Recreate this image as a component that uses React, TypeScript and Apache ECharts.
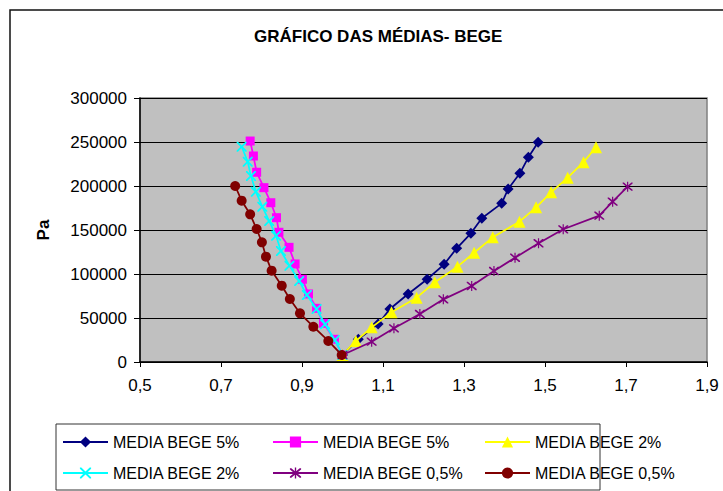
import React, { useEffect, useRef } from "react";
import * as echarts from "echarts";

const titleText = "GRÁFICO DAS MÉDIAS- BEGE";
const yAxisName = "Pa";
const seriesLabels = [
  "MEDIA BEGE 5%",
  "MEDIA BEGE 5%",
  "MEDIA BEGE 2%",
  "MEDIA BEGE 2%",
  "MEDIA BEGE 0,5%",
  "MEDIA BEGE 0,5%",
];

// MEDIA BEGE 5% (right branch, navy diamonds)
const navyX = [1.0, 1.039, 1.088, 1.117, 1.162, 1.209, 1.251, 1.282, 1.317, 1.344, 1.393, 1.409, 1.438, 1.459, 1.483];
const navyY = [8000, 25800, 43200, 60200, 77300, 94000, 111000, 129200, 146200, 163300, 180300, 196600, 214400, 232600, 249700];

// MEDIA BEGE 5% (left branch, magenta squares)
const magentaX = [0.772, 0.78, 0.788, 0.806, 0.823, 0.837, 0.843, 0.868, 0.883, 0.901, 0.916, 0.936, 0.953, 0.98, 1.0];
const magentaY = [251100, 234100, 215600, 198100, 181000, 164000, 147400, 130300, 111400, 94000, 77300, 61000, 44000, 25800, 8000];

// MEDIA BEGE 2% (right branch, yellow triangles)
const yellowX = [1.0, 1.033, 1.072, 1.121, 1.183, 1.228, 1.284, 1.325, 1.371, 1.437, 1.478, 1.515, 1.556, 1.595, 1.626];
const yellowY = [8000, 23900, 39400, 56400, 73100, 90600, 108300, 124200, 141700, 159500, 175800, 192800, 209500, 227000, 244000];

// MEDIA BEGE 2% (left branch, cyan crosses)
const cyanX = [0.751, 0.766, 0.774, 0.786, 0.802, 0.819, 0.836, 0.848, 0.869, 0.893, 0.912, 0.936, 0.957, 0.981, 1.0];
const cyanY = [244700, 227600, 211400, 193600, 176500, 160200, 143500, 126100, 109400, 92000, 76100, 60200, 42800, 25000, 8000];

// MEDIA BEGE 0,5% (right branch, purple asterisks)
const purpleX = [1.0, 1.072, 1.127, 1.191, 1.249, 1.319, 1.374, 1.426, 1.484, 1.545, 1.634, 1.667, 1.704];
const purpleY = [8000, 23100, 38300, 54500, 71200, 86400, 103400, 118500, 134900, 150800, 166300, 182200, 199200];

// MEDIA BEGE 0,5% (left branch, maroon circles)
const maroonX = [0.735, 0.751, 0.772, 0.788, 0.801, 0.811, 0.825, 0.85, 0.87, 0.895, 0.928, 0.965, 0.998];
const maroonY = [200000, 183300, 167800, 151100, 136000, 119700, 103800, 86700, 71600, 55300, 40100, 23900, 8000];

const X_MIN = 0.5;
const X_MAX = 1.9;
const X_STEP = 0.2;
const Y_MAX = 300000;
const Y_STEP = 50000;

const FONT = "'Liberation Sans', Arial, Helvetica, sans-serif";

const crossPath =
  "path://M0,0 L2.5,0 L10,7.5 L17.5,0 L20,0 L20,2.5 L12.5,10 L20,17.5 L20,20 L17.5,20 L10,12.5 L2.5,20 L0,20 L0,17.5 L7.5,10 L0,2.5 Z";
const starPath =
  "path://M0,0 L2.5,0 L10,7.5 L17.5,0 L20,0 L20,2.5 L12.5,10 L20,17.5 L20,20 L17.5,20 L10,12.5 L2.5,20 L0,20 L0,17.5 L7.5,10 L0,2.5 Z M8.8,-2 L11.2,-2 L11.2,22 L8.8,22 Z";

function pairs(xs: number[], ys: number[]) {
  return xs.map((x, i) => [x - X_MIN, ys[i]]);
}

export default function App() {
  const ref = useRef<HTMLDivElement>(null);

  useEffect(() => {
    if (!ref.current) return;
    const chart = echarts.init(ref.current, null, { renderer: "svg" });

    const specs = [
      { xs: navyX, ys: navyY, color: "#000080", symbol: "diamond", size: 11 },
      { xs: magentaX, ys: magentaY, color: "#FF00FF", symbol: "rect", size: 9 },
      { xs: yellowX, ys: yellowY, color: "#FFFF00", symbol: "triangle", size: 12 },
      { xs: cyanX, ys: cyanY, color: "#00FFFF", symbol: crossPath, size: 10 },
      { xs: purpleX, ys: purpleY, color: "#800080", symbol: starPath, size: 10 },
      { xs: maroonX, ys: maroonY, color: "#800000", symbol: "circle", size: 10 },
    ];

    const names = specs.map((_, i) => "s" + i);

    const series = specs.map((s, i) => ({
      type: "line",
      name: names[i],
      data: pairs(s.xs, s.ys),
      symbol: s.symbol,
      symbolSize: s.size,
      showAllSymbol: true,
      lineStyle: { color: s.color, width: 1.75 },
      itemStyle: { color: s.color, borderWidth: 0 },
      emphasis: { disabled: true },
      z: 3 + i,
    }));

    const makeLegend = (left: number, data: string[]) => ({
      orient: "vertical",
      left,
      top: 434,
      height: 120,
      padding: 0,
      itemWidth: 45,
      itemHeight: 14,
      itemGap: 15,
      selectedMode: false,
      data,
      formatter: (n: string) => seriesLabels[names.indexOf(n)],
      textStyle: { fontFamily: FONT, fontSize: 16, color: "#000" },
    });

    chart.setOption({
      animation: false,
      backgroundColor: "#fff",
      title: {
        text: titleText,
        left: 249,
        top: 23,
        textStyle: { fontFamily: FONT, fontSize: 17, fontWeight: "bold", color: "#000" },
      },
      grid: {
        left: 140,
        top: 98,
        right: 16,
        bottom: 129,
        show: true,
        backgroundColor: "#C0C0C0",
        borderColor: "#808080",
        borderWidth: 1.5,
      },
      xAxis: {
        type: "value",
        min: 0,
        max: X_MAX - X_MIN,
        interval: X_STEP,
        axisLine: { show: true, lineStyle: { color: "#000", width: 1.5 } },
        axisTick: { show: true, length: 5, lineStyle: { color: "#000" } },
        splitLine: { show: false },
        axisLabel: {
          margin: 15,
          fontFamily: FONT,
          fontSize: 17,
          color: "#000",
          formatter: (v: number) => (v + X_MIN).toFixed(1).replace(".", ","),
        },
      },
      yAxis: {
        type: "value",
        min: 0,
        max: Y_MAX,
        interval: Y_STEP,
        name: yAxisName,
        nameLocation: "middle",
        nameRotate: 90,
        nameGap: 88,
        nameTextStyle: { fontFamily: FONT, fontSize: 17, fontWeight: "bold", color: "#000" },
        axisLine: { show: true, lineStyle: { color: "#000", width: 1.5 } },
        axisTick: { show: true, length: 6, lineStyle: { color: "#000" } },
        splitLine: { show: true, lineStyle: { color: "#000", width: 1 } },
        axisLabel: {
          margin: 13,
          fontFamily: FONT,
          fontSize: 17,
          color: "#000",
          formatter: (v: number) => String(v),
        },
      },
      legend: [
        makeLegend(62, [names[0], names[3]]),
        makeLegend(272, [names[1], names[4]]),
        makeLegend(484, [names[2], names[5]]),
      ],
      graphic: [
        {
          type: "rect",
          shape: { x: 10, y: 10, width: 800, height: 600 },
          style: { fill: "none", stroke: "#111", lineWidth: 1.5 },
          z: -1,
          silent: true,
        },
        {
          type: "rect",
          shape: { x: 56, y: 424, width: 544, height: 66 },
          style: { fill: "none", stroke: "#333", lineWidth: 1 },
          silent: true,
        },
      ],
      series,
    });

    return () => chart.dispose();
  }, []);

  return (
    <div
      ref={ref}
      style={{ position: "absolute", left: 0, top: 0, width: 723, height: 491 }}
    />
  );
}
